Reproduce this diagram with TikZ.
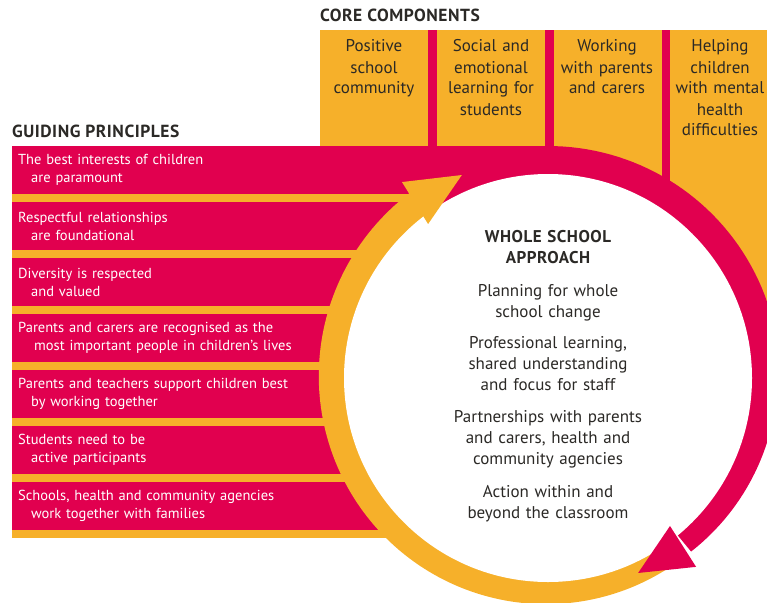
\documentclass[tikz,border=0pt]{standalone}
\usepackage{fontspec}
\setmainfont{PT Sans}
\definecolor{mag}{HTML}{E1004F}
\definecolor{org}{HTML}{F6B02A}
\definecolor{ink}{HTML}{2B2926}
\begin{document}
\begin{tikzpicture}[x=1pt,y=-1pt,
  rowbar/.style={fill=mag, anchor=north west, minimum width=536pt, minimum height=48pt,
    inner xsep=0pt, inner ysep=0pt, text=white, font=\fontsize{14.5}{18}\selectfont,
    text width=524pt, align=left},
  coltext/.style={anchor=base, text width=108pt, align=center, inner sep=0pt,
    text=ink, font=\fontsize{17}{21}\selectfont},
  head/.style={anchor=base west, inner sep=0pt, text=ink,
    font=\fontsize{17.5}{20}\bfseries\selectfont\addfontfeature{LetterSpace=3}},
  centertext/.style={anchor=base, text width=230pt, align=center, inner sep=0pt,
    text=ink, font=\fontsize{17}{21}\selectfont}
]
\useasboundingbox (0,0) rectangle (767,602);
\clip (0,0) rectangle (767,602);
% orange backgrounds
\fill[org] (320,30) rectangle (767,340);
\fill[org] (12,146) rectangle (548,538);
% separators between core components
\fill[mag] (428,30) rectangle (437,150);
\fill[mag] (545,30) rectangle (554,165);
\fill[mag] (662,30) rectangle (670,200);
% guiding principle bars
\node[rowbar] (p1) at (12,146) {The best interests of children\\\hspace*{13pt}are paramount};
\node[rowbar] (p2) at (12,202) {Respectful relationships\\\hspace*{13pt}are foundational};
\node[rowbar] (p3) at (12,258) {Diversity is respected\\\hspace*{13pt}and valued};
\node[rowbar] (p4) at (12,314) {Parents and carers are recognised as the\\\hspace*{16pt}most important people in children’s lives};
\node[rowbar] (p5) at (12,370) {Parents and teachers support children best\\\hspace*{13pt}by working together};
\node[rowbar] (p6) at (12,426) {Students need to be\\\hspace*{13pt}active participants};
\node[rowbar] (p7) at (12,482) {Schools, health and community agencies\\\hspace*{13pt}work together with families};
% ring
\begin{scope}[shift={(548,378)}, yscale=-1]
  \fill[mag] plot[domain=126:-50.5, samples=90] (\x:{232-0.1*max(0,20-\x)})
     -- plot[domain=-50.5:126, samples=30] (\x:190) -- cycle;
  \fill[org] plot[domain=-56:-234, samples=120] (\x:{225+0.0341*(-56-\x)})
     -- plot[domain=-234:-56, samples=30] (\x:190) -- cycle;
  \fill[white] (0,0) circle (204);
  \fill[org] (113:220.5) -- (126.7:244.4) -- (127.9:195.2) -- cycle;
  \fill[mag] (-65.2:214.8) -- (-50.5:191.8) -- (-51.9:240) -- cycle;
\end{scope}
% headings
\node[head] (cc) at (320,22) {CORE COMPONENTS};
\node[head] (gp) at (12,137) {GUIDING PRINCIPLES};
% core components
\node[coltext] (c1) at (374,52) {Positive\\school\\community};
\node[coltext] (c2) at (491,52) {Social and\\emotional\\learning for\\students};
\node[coltext] (c3) at (607,52) {Working\\with parents\\and carers};
\node[coltext] (c4) at (720,52) {Helping\\children\\with mental\\health\\difficulties};
% whole school approach
\node[centertext] (wsa) at (548,242) {{\bfseries\addfontfeature{LetterSpace=3}WHOLE SCHOOL\\APPROACH}\\[12pt]
  Planning for whole\\school change\\[10pt]
  Professional learning,\\shared understanding\\and focus for staff\\[11pt]
  Partnerships with parents\\and carers, health and\\community agencies\\[12pt]
  Action within and\\beyond the classroom};
\end{tikzpicture}
\end{document}
